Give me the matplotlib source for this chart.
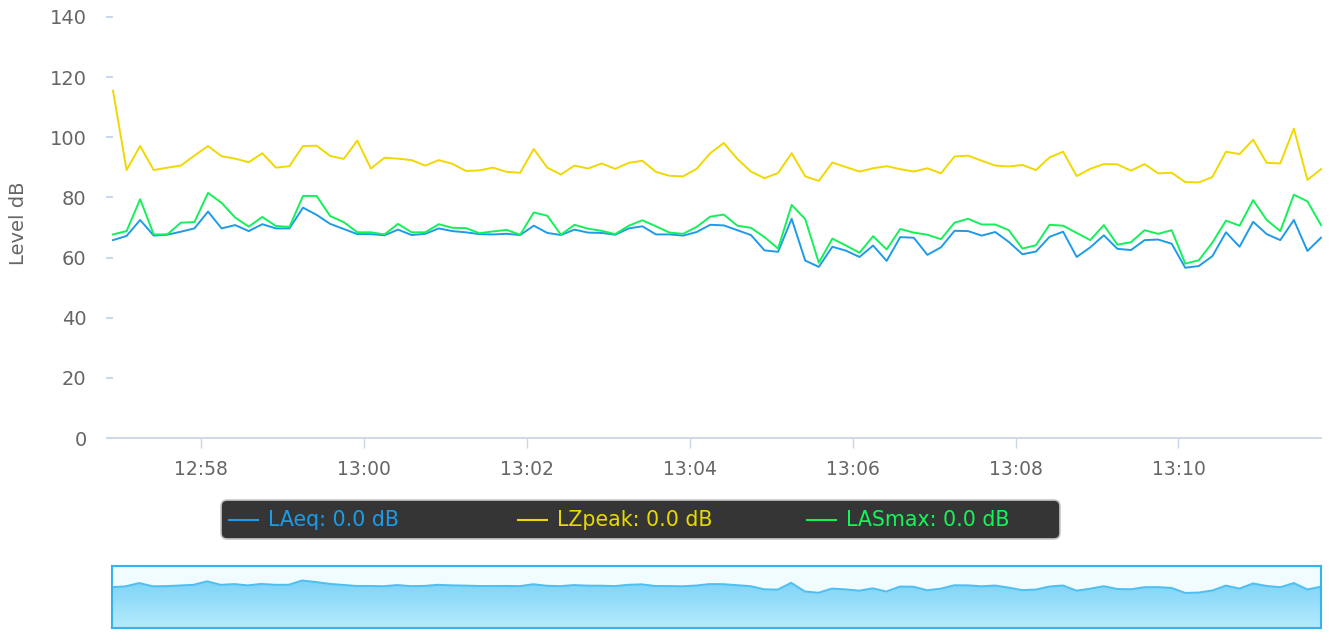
import numpy as np
import pandas as pd
import matplotlib
matplotlib.use('Agg')
import matplotlib.pyplot as plt
import matplotlib.dates as mdates
from matplotlib.patches import FancyBboxPatch
from matplotlib.lines import Line2D
from matplotlib.transforms import IdentityTransform
from matplotlib.colors import LinearSegmentedColormap

# ---------------- data ----------------
START_TIME = '2024-01-01 12:56:55'
STEP = '10s'

laeq = [65.8, 67.2, 72.5, 67.3, 67.6, 68.6, 69.7, 75.3, 69.7, 70.8, 68.8, 71.1, 69.7, 69.7,
        76.6, 74.2, 71.2, 69.5, 67.8, 67.8, 67.4, 69.3,
        67.5, 67.9, 69.7, 68.8, 68.4, 67.8, 67.7, 67.9, 67.5, 70.6, 68.2, 67.5, 69.3, 68.3,
        68.2, 67.6, 69.7, 70.4, 67.7, 67.7, 67.3, 68.5,
        70.9, 70.7, 69.1, 67.5, 62.4, 61.9, 72.9, 59.0, 56.9, 63.6, 62.3, 60.2, 64.0, 58.9,
        66.8, 66.6, 60.9, 63.4, 68.9, 68.8, 67.3, 68.5,
        65.2, 61.1, 62.0, 66.9, 68.6, 60.2, 63.4, 67.4, 62.9, 62.5, 65.8, 66.0, 64.6, 56.6,
        57.2, 60.5, 68.4, 63.6, 71.9, 67.8, 65.8, 72.5, 62.2, 66.6]

lzpeak = [115.5, 89.1, 97.1, 89.1, 89.9, 90.6, 93.9, 97.1, 93.7, 92.9, 91.7, 94.7, 89.9, 90.4,
          97.1, 97.2, 93.8, 92.8, 98.9, 89.6, 93.2, 92.9,
          92.4, 90.6, 92.4, 91.2, 88.8, 89.0, 89.9, 88.5, 88.2, 96.1, 89.9, 87.6, 90.6, 89.6,
          91.3, 89.5, 91.5, 92.2, 88.5, 87.2, 87.0, 89.5,
          94.7, 98.1, 92.8, 88.6, 86.4, 88.1, 94.7, 87.0, 85.5, 91.6, 90.1, 88.6, 89.7, 90.4,
          89.4, 88.6, 89.7, 88.0, 93.6, 93.9, 92.2, 90.6,
          90.3, 90.8, 89.1, 93.3, 95.2, 87.1, 89.5, 91.1, 91.0, 88.9, 91.1, 88.0, 88.2, 85.1,
          85.0, 86.8, 95.2, 94.4, 99.2, 91.5, 91.3, 102.9, 85.8, 89.4]

lasmax = [67.7, 68.8, 79.4, 67.7, 67.7, 71.6, 71.8, 81.5, 78.2, 73.3, 70.3, 73.5, 70.5, 70.2,
          80.5, 80.5, 73.8, 71.8, 68.4, 68.4, 67.7, 71.2,
          68.4, 68.4, 71.1, 69.9, 69.8, 68.1, 68.7, 69.2, 67.6, 75.0, 73.9, 67.6, 70.9, 69.6,
          68.9, 67.8, 70.6, 72.4, 70.4, 68.3, 67.9, 70.2,
          73.6, 74.3, 70.6, 69.9, 66.8, 63.0, 77.5, 72.8, 58.3, 66.3, 64.0, 61.6, 67.1, 62.7,
          69.5, 68.3, 67.6, 66.1, 71.6, 72.9, 71.0, 71.0,
          69.1, 63.0, 64.1, 70.9, 70.6, 68.2, 65.8, 70.8, 64.3, 65.1, 69.1, 67.9, 69.1, 58.0,
          59.1, 65.0, 72.3, 70.6, 79.1, 72.5, 68.8, 80.9, 78.7, 70.8]

series_names = ['LAeq', 'LZpeak', 'LASmax']
legend_values = [0.0, 0.0, 0.0]
y_ticks = [0, 20, 40, 60, 80, 100, 120, 140]
y_label = 'Level dB'

times = pd.date_range(START_TIME, periods=len(laeq), freq=STEP)
xnum = mdates.date2num(times.to_pydatetime())

# ---------------- style ----------------
line_colors = ['#1e9be8', '#f0d800', '#14f05a']
text_colors = ['#1a9ce8', '#e8da00', '#14f55a']
axis_col = '#ccd6eb'
label_col = '#666666'

W, H = 1331, 632
fig = plt.figure(figsize=(W / 100, H / 100), dpi=100)
fig.patch.set_facecolor('white')

# main plot
ax = fig.add_axes([113 / W, 1 - 438 / H, (1321 - 113) / W, (438 - 17) / H])
for vals, c in zip([laeq, lzpeak, lasmax], line_colors):
    ax.plot(xnum, vals, color=c, lw=1.4, solid_joinstyle='round', clip_on=False)
ax.set_xlim(xnum[0], xnum[-1])
ax.set_ylim(0, 140)
ax.set_yticks(y_ticks)
ax.set_yticklabels([str(v) for v in y_ticks])
for s in ['top', 'right', 'left']:
    ax.spines[s].set_visible(False)
ax.spines['bottom'].set_color(axis_col)
ax.spines['bottom'].set_linewidth(1.3)
ax.xaxis.set_major_locator(mdates.MinuteLocator(byminute=range(0, 60, 2)))
ax.xaxis.set_major_formatter(mdates.DateFormatter('%H:%M'))
ax.tick_params(axis='x', length=7.5, width=1.0, color=axis_col, labelcolor=label_col,
               labelsize=13.5, pad=8)
ax.tick_params(axis='y', length=5, width=1.5, color=axis_col, labelcolor=label_col,
               labelsize=14, pad=14)
ax.set_ylabel(y_label, color=label_col, fontsize=14, va='center', ha='center')
ax.yaxis.set_label_coords((19 - 113) / 1208, (438 - 223) / 421)
ax.set_facecolor('white')

# legend box (drawn in pixel coordinates)
tr = IdentityTransform()
box = FancyBboxPatch((221, H - 539), 839, 39, boxstyle='round,pad=0,rounding_size=6',
                     facecolor='#353535', edgecolor='#c8c8c8', lw=1.2, transform=tr)
fig.patches.append(box)
for i, (name, val) in enumerate(zip(series_names, legend_values)):
    x0 = 229 + i * 289
    yc = H - 520
    fig.lines.append(Line2D([x0, x0 + 29], [yc, yc], color=line_colors[i], lw=1.5, transform=tr))
    fig.text(x0 + 39, yc, f'{name}: {val:.1f} dB', transform=tr, color=text_colors[i],
             fontsize=14.8, va='center', ha='left')

# navigator
nav = fig.add_axes([112 / W, 1 - 628 / H, (1321 - 112) / W, (628 - 566) / H])
nav.set_facecolor('#f0fcff')
poly = nav.fill_between(xnum, laeq, 0, color='none', lw=0)
grad = np.linspace(0, 1, 256).reshape(-1, 1)
cmap = LinearSegmentedColormap.from_list('nav', ['#b6ebfd', '#6cccf6'])
im = nav.imshow(grad, aspect='auto', cmap=cmap, origin='lower',
                extent=[xnum[0], xnum[-1], 0, 100], zorder=1)
im.set_clip_path(poly.get_paths()[0], transform=nav.transData)
nav.plot(xnum, laeq, color='#4fbff0', lw=1.4, zorder=2)
nav.set_xlim(xnum[0], xnum[-1])
nav.set_ylim(0, 100)
nav.set_xticks([])
nav.set_yticks([])
for s in nav.spines.values():
    s.set_color('#33b3ef')
    s.set_linewidth(1.5)

fig.savefig('out.png', dpi=100)
